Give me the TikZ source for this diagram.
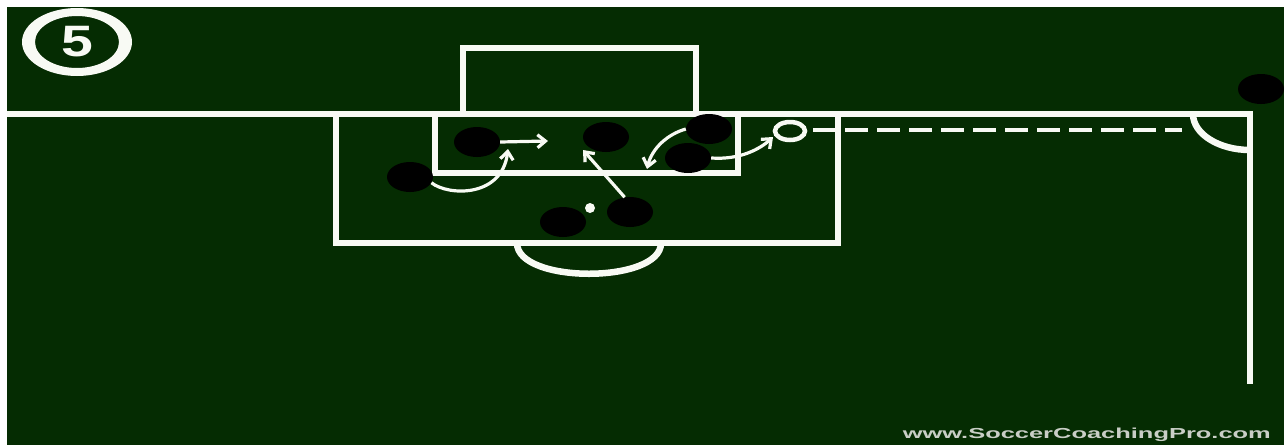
\documentclass[tikz,border=0pt]{standalone}
\usepackage{fontspec}
\setmainfont{Liberation Sans}
\usepackage{graphicx}
\usetikzlibrary{arrows.meta,shapes.geometric}
\definecolor{pitch}{HTML}{052C02}
\definecolor{chalk}{HTML}{F8FAF4}
\definecolor{wmark}{HTML}{C9CEC6}
\tikzset{
  pitchline/.style={draw=chalk, line width=6.5pt},
  player/.style={ellipse, fill=black, minimum width=46pt, minimum height=30pt, inner sep=0pt},
  ball/.style={ellipse, draw=chalk, fill=pitch, line width=4.5pt, minimum width=30pt,
               minimum height=18pt, inner sep=0pt},
  ar/.style={-{Straight Barb[length=8pt,width=13pt]}, line width=3.2pt, draw=chalk},
  runline/.style={draw=chalk, line width=4.5pt, dash pattern=on 23pt off 9pt},
  lbl/.style={font=\bfseries, text=wmark, inner sep=0pt}
}
\begin{document}
\begin{tikzpicture}[x=1pt,y=-1pt]
  \useasboundingbox (0,0) rectangle (1284,445);
  \fill[white] (0,0) rectangle (1284,445);
  \fill[pitch] (7,7) rectangle (1284,445);

  % badge
  \fill[chalk, even odd rule] (77,42) ellipse [x radius=55, y radius=34]
                              (77,42) ellipse [x radius=42, y radius=26];
  \node[text=chalk, inner sep=0pt] (num) at (77,42)
    {\fontsize{44}{44}\selectfont\bfseries\scalebox{1.3}[1]{5}};

  % pitch markings
  \draw[pitchline] (7,114) -- (1250,114) -- (1250,384);
  \draw[pitchline] (463,114) -- (463,48) -- (696,48) -- (696,114);
  \draw[pitchline] (336,114) -- (336,243) -- (838,243) -- (838,114);
  \draw[pitchline] (435,114) -- (435,173) -- (738,173) -- (738,114);
  \draw[pitchline] (517,243) .. controls (517,284) and (661,284) .. (661,243);
  \draw[pitchline] (1193,114) .. controls (1193,134) and (1219,150) .. (1250,150);
  \fill[chalk] (590,208) circle (5);

  % players and ball
  \node[player] (p1) at (477,142) {};
  \node[player] (p2) at (410,177) {};
  \node[player] (p3) at (606,137) {};
  \node[player] (p4) at (709,129) {};
  \node[player] (p5) at (688,158) {};
  \node[player] (p6) at (630,212) {};
  \node[player] (p7) at (563,222) {};
  \node[player] (p8) at (1261,89) {};
  \node[ball] (ball) at (790,131) {};

  % runs and passes
  \coordinate (t1) at (548,141);
  \coordinate (t2) at (508,149);
  \coordinate (t3) at (583,150);
  \coordinate (t4) at (647,169);
  \coordinate (t5) at (773,137);
  \coordinate (flag) at (1182,130);
  \draw[ar] (p1.east) -- (t1);
  \draw[ar] (p2.-15) .. controls (448,196) and (502,198) .. (t2);
  \draw[ar] (p6.110) -- (t3);
  \draw[ar] (p4.west) .. controls (668,134) and (652,148) .. (t4);
  \draw[ar] (p5.east) .. controls (740,160) and (760,149) .. (t5);
  \draw[runline] (813,130) -- (flag);

  \node[lbl, anchor=base east] (site) at (1271,438)
    {\resizebox{368pt}{10.5pt}{www.SoccerCoachingPro.com}};
\end{tikzpicture}
\end{document}
